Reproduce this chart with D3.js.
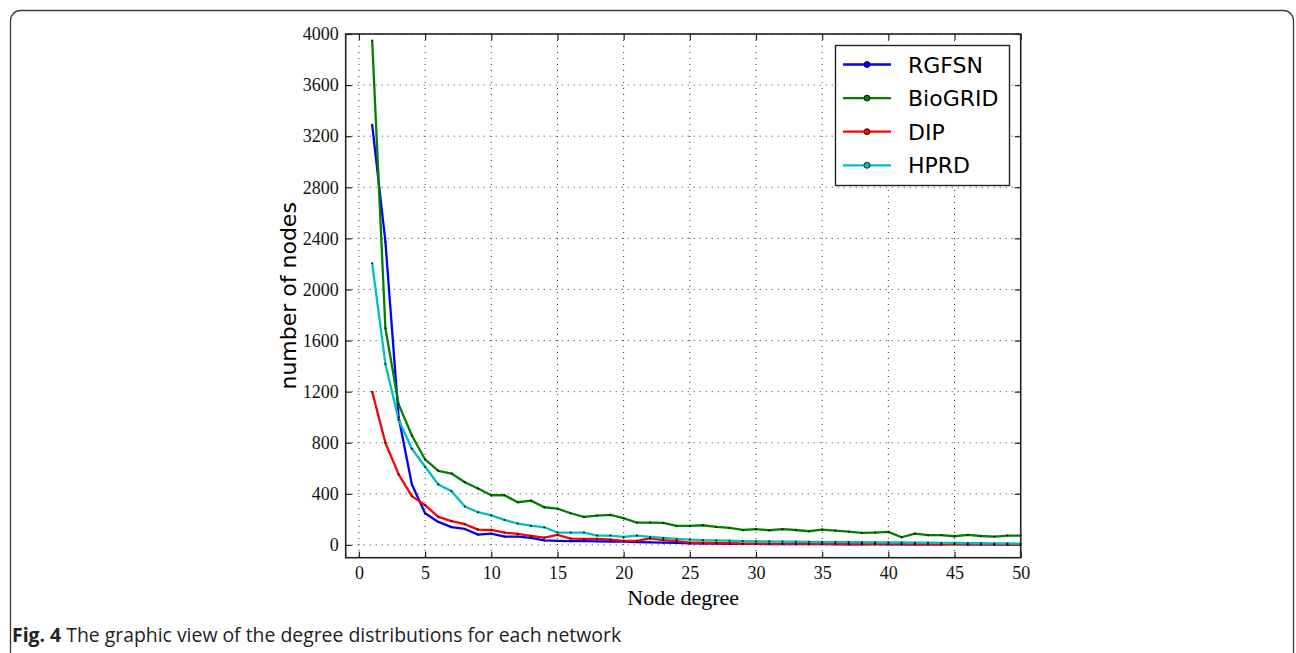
<!DOCTYPE html>
<html lang="en">
<head>
  <meta charset="UTF-8">
  <title>Degree distributions</title>
  <script src="https://cdnjs.cloudflare.com/ajax/libs/d3/7.8.5/d3.min.js"></script>
  <style>
    body { margin: 0; background: #fff; }
    svg { display: block; }
    .tick text { font-family: "Liberation Serif", serif; font-size: 18px; fill: #111; }
  </style>
</head>
<body>
  <div id="chart"></div>
  <script>
    // degree values 1..50
    const degrees = d3.range(1, 51);

    const rgfsn = [3290, 2374, 1000, 473, 248, 180, 139, 125, 81, 89,
                   65, 65, 55, 35, 31, 29, 29, 28, 27, 26,
                   22, 20, 18, 16, 12, 11, 10, 9, 8, 8,
                   7, 7, 7, 6, 6, 6, 5, 5, 6, 5,
                   5, 5, 4, 4, 8, 4, 4, 4, 3, 3];
    const biogrid = [3950, 1696, 1100, 857, 669, 580, 559, 491, 442, 389,
                     389, 334, 347, 295, 284, 248, 219, 230, 235, 209,
                     175, 175, 172, 149, 149, 154, 141, 133, 117, 123,
                     115, 123, 117, 107, 120, 112, 104, 94, 97, 102,
                     60, 89, 76, 76, 68, 78, 70, 65, 73, 73];
    const dip = [1200, 800, 552, 382, 311, 220, 186, 162, 120, 117,
                 97, 86, 70, 57, 78, 50, 47, 47, 42, 31,
                 31, 52, 37, 29, 18, 17, 15, 13, 10, 10,
                 9, 9, 8, 8, 8, 7, 7, 7, 6, 6,
                 6, 5, 5, 5, 5, 4, 4, 4, 3, 3];
    const hprd = [2205, 1417, 980, 753, 612, 473, 421, 301, 256, 232,
                  196, 167, 151, 138, 97, 97, 97, 73, 73, 63,
                  73, 63, 55, 47, 42, 37, 35, 33, 30, 28,
                  27, 26, 25, 24, 23, 22, 22, 21, 20, 19,
                  19, 18, 17, 16, 15, 14, 13, 12, 11, 10];

    const seriesNames = ["RGFSN", "BioGRID", "DIP", "HPRD"];
    const seriesValues = [rgfsn, biogrid, dip, hprd];
    const seriesColors = ["#0000ff", "#008000", "#ff0000", "#00bfbf"];

    const xTicks = [0, 5, 10, 15, 20, 25, 30, 35, 40, 45, 50];
    const yTicks = [0, 400, 800, 1200, 1600, 2000, 2400, 2800, 3200, 3600, 4000];

    const W = 1296, H = 653;
    const plot = {left: 345.7, right: 1020.7, top: 34, bottom: 557.7};

    const svg = d3.select("#chart").append("svg")
      .attr("width", W)
      .attr("height", H);

    // outer figure border
    svg.append("rect")
      .attr("x", 10.5).attr("y", 10.5)
      .attr("width", 1283).attr("height", 700)
      .attr("rx", 10).attr("ry", 10)
      .attr("fill", "none")
      .attr("stroke", "#3a3a3a")
      .attr("stroke-width", 1.3);

    const x = d3.scaleLinear().domain([-1, 50]).range([plot.left, plot.right]);
    const y = d3.scaleLinear().domain([-100, 4000]).range([plot.bottom, plot.top]);
    const fmt = d3.format("d");

    // grid
    const grid = svg.append("g");
    grid.selectAll(".vg").data(xTicks).enter().append("line")
      .attr("x1", d => x(d)).attr("x2", d => x(d))
      .attr("y1", plot.top).attr("y2", plot.bottom)
      .attr("stroke", "#333").attr("stroke-width", 1)
      .attr("stroke-dasharray", "1,5");
    grid.selectAll(".hg").data(yTicks).enter().append("line")
      .attr("x1", plot.left).attr("x2", plot.right)
      .attr("y1", d => y(d)).attr("y2", d => y(d))
      .attr("stroke", "#333").attr("stroke-width", 1)
      .attr("stroke-dasharray", "1,5");

    // axes (ticks inward on all four sides)
    const tl = 6;
    svg.append("g")
      .attr("transform", `translate(0,${plot.bottom})`)
      .call(d3.axisBottom(x).tickValues(xTicks).tickSize(-tl).tickPadding(9).tickFormat(fmt))
      .call(g => g.select(".domain").remove());
    svg.append("g")
      .attr("transform", `translate(0,${plot.top})`)
      .call(d3.axisTop(x).tickValues(xTicks).tickSize(-tl).tickFormat(""))
      .call(g => g.select(".domain").remove());
    svg.append("g")
      .attr("transform", `translate(${plot.left},0)`)
      .call(d3.axisLeft(y).tickValues(yTicks).tickSize(-tl).tickPadding(7).tickFormat(fmt))
      .call(g => g.select(".domain").remove());
    svg.append("g")
      .attr("transform", `translate(${plot.right},0)`)
      .call(d3.axisRight(y).tickValues(yTicks).tickSize(-tl).tickFormat(""))
      .call(g => g.select(".domain").remove());
    svg.selectAll(".tick line").attr("stroke", "#222").attr("stroke-width", 1.2);

    // lines
    const line = d3.line().x((d, i) => x(degrees[i])).y(d => y(d));
    seriesValues.forEach((vals, k) => {
      svg.append("path")
        .datum(vals)
        .attr("fill", "none")
        .attr("stroke", seriesColors[k])
        .attr("stroke-width", 2.3)
        .attr("stroke-linejoin", "round")
        .attr("d", line);
    });
    seriesValues.forEach((vals, k) => {
      svg.append("g").selectAll("circle").data(vals).enter().append("circle")
        .attr("cx", (d, i) => x(degrees[i]))
        .attr("cy", d => y(d))
        .attr("r", 1)
        .attr("fill", "#111");
    });

    // frame
    svg.append("rect")
      .attr("x", plot.left).attr("y", plot.top)
      .attr("width", plot.right - plot.left).attr("height", plot.bottom - plot.top)
      .attr("fill", "none").attr("stroke", "#222").attr("stroke-width", 1.6);

    // axis titles
    svg.append("text")
      .attr("x", (plot.left + plot.right) / 2).attr("y", 605)
      .attr("text-anchor", "middle")
      .style("font-family", "Liberation Serif, serif")
      .style("font-size", "22px")
      .text("Node degree");
    svg.append("text")
      .attr("transform", `translate(296,${(plot.top + plot.bottom) / 2}) rotate(-90)`)
      .attr("text-anchor", "middle")
      .style("font-family", "DejaVu Sans, sans-serif")
      .style("font-size", "22px")
      .text("number of nodes");

    // legend
    const legend = svg.append("g");
    legend.append("rect")
      .attr("x", 835.5).attr("y", 45.5).attr("width", 174).attr("height", 140)
      .attr("fill", "#fff").attr("stroke", "#222").attr("stroke-width", 1.4);
    seriesNames.forEach((name, k) => {
      const ly = 64.5 + k * 33.6;
      legend.append("line")
        .attr("x1", 843).attr("x2", 891).attr("y1", ly).attr("y2", ly)
        .attr("stroke", seriesColors[k]).attr("stroke-width", 2.3);
      legend.append("circle")
        .attr("cx", 867).attr("cy", ly).attr("r", 3)
        .attr("fill", seriesColors[k]).attr("stroke", "#000").attr("stroke-width", 0.8);
      legend.append("text")
        .attr("x", 908).attr("y", ly + 8)
        .style("font-family", "DejaVu Sans, sans-serif")
        .style("font-size", "22px")
        .text(name);
    });

    // caption
    const cap = svg.append("text")
      .attr("x", 12).attr("y", 642)
      .style("font-family", "Open Sans, sans-serif")
      .style("font-size", "19.4px")
      .attr("fill", "#222");
    cap.append("tspan").style("font-weight", "bold").text("Fig. 4");
    cap.append("tspan").text(" The graphic view of the degree distributions for each network");
  </script>
</body>
</html>
